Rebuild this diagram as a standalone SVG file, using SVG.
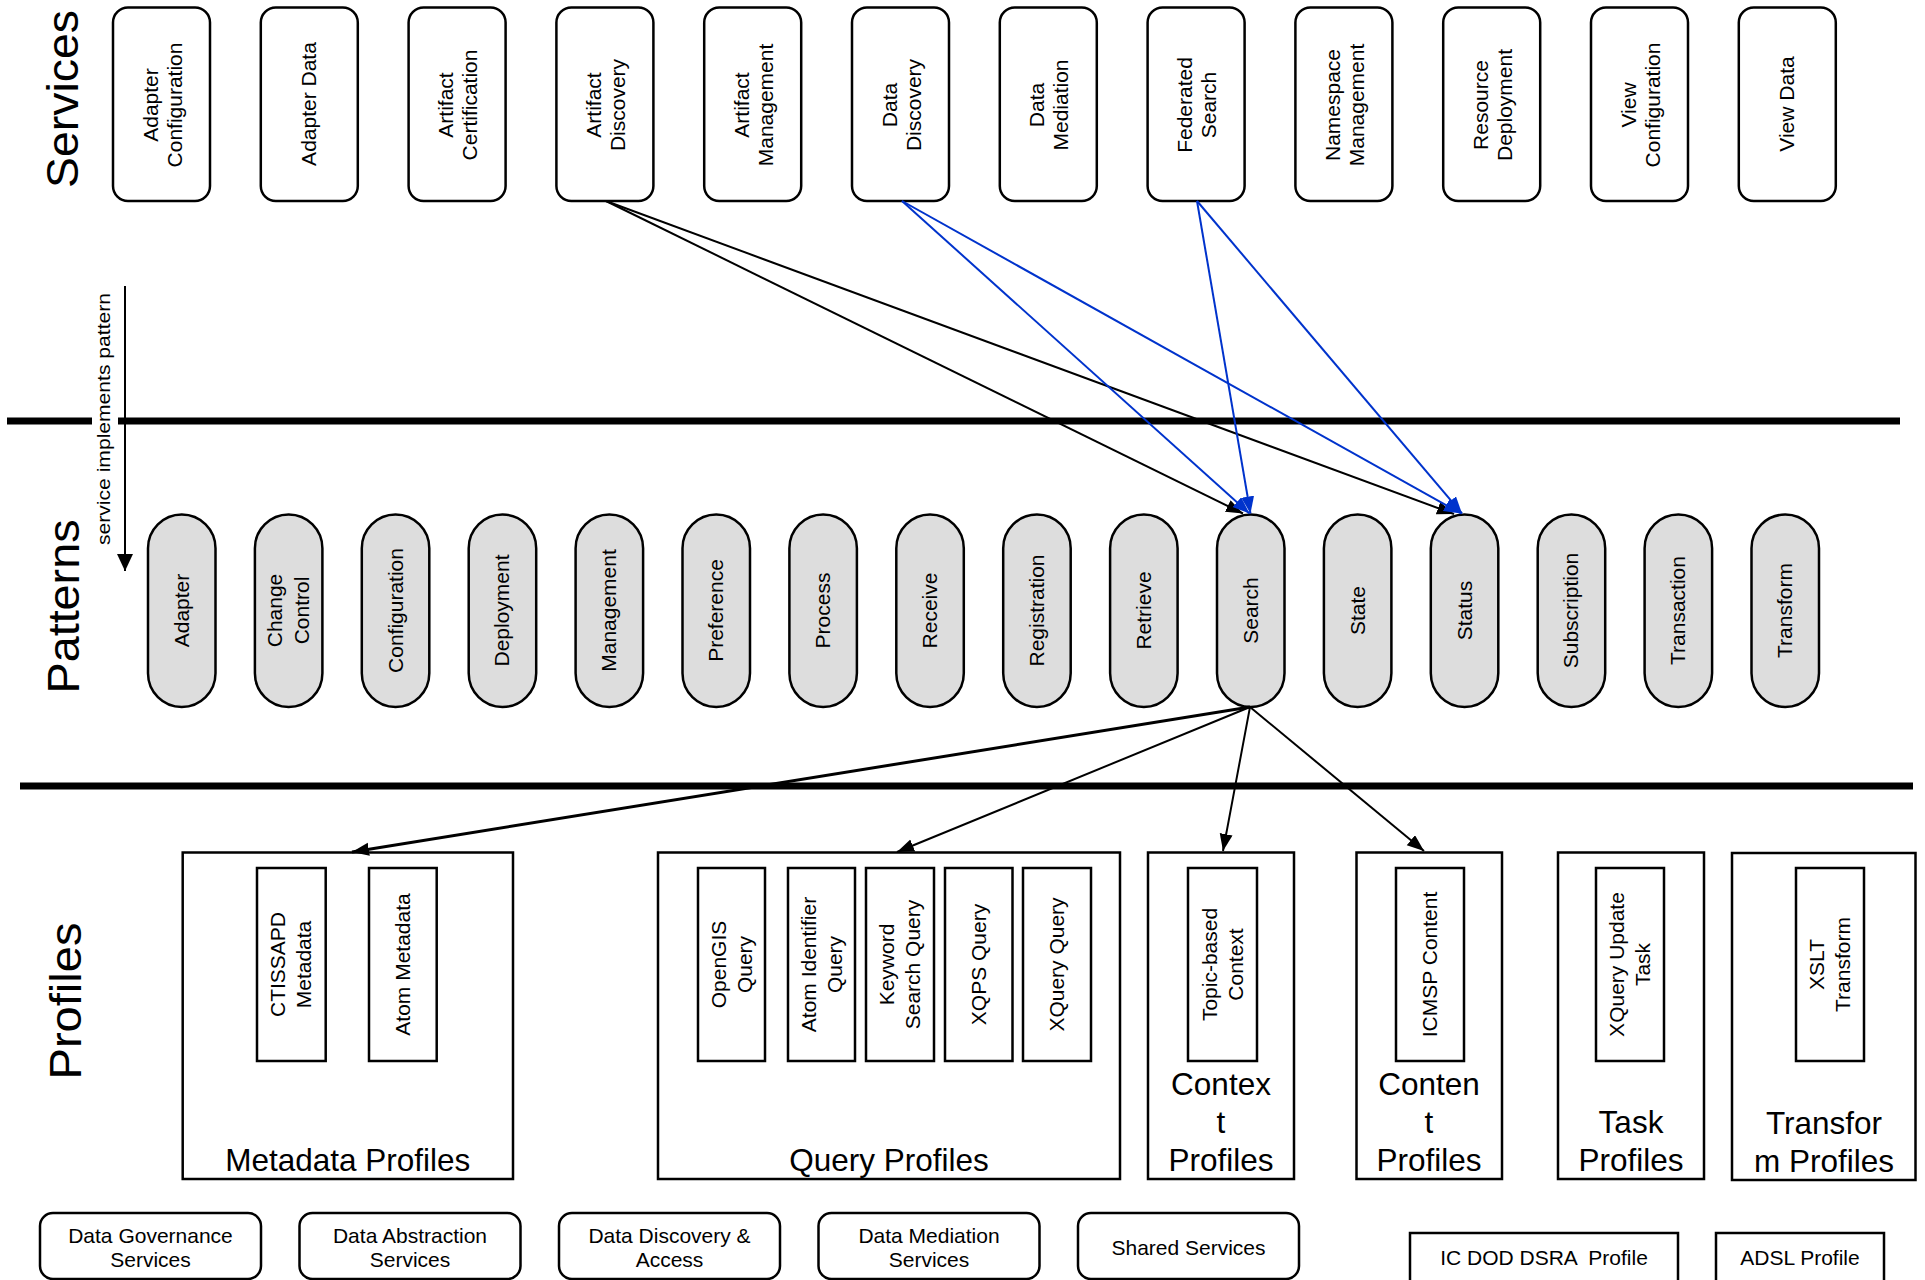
<svg xmlns="http://www.w3.org/2000/svg" width="1925" height="1280" viewBox="0 0 1925 1280">
<style>
text{font-family:"Liberation Sans",Arial,Helvetica,sans-serif;fill:#000}
.t21{font-size:21px;text-anchor:middle}
.big{font-size:31.5px;text-anchor:middle}
.title{font-size:45px;text-anchor:middle}
.svc{fill:#fff;stroke:#000;stroke-width:2.5}
.pill{fill:#dddddd;stroke:#000;stroke-width:2.5}
.box{fill:#fff;stroke:#000;stroke-width:2.5}
.sep{stroke:#000;stroke-width:7}
.blk{stroke:#000;stroke-width:2;fill:none;marker-end:url(#ab)}
.blu{stroke:#0033cc;stroke-width:2;fill:none;marker-end:url(#au)}
</style>
<defs>
<marker id="ab" markerUnits="userSpaceOnUse" markerWidth="18" markerHeight="14" refX="17" refY="6.5" orient="auto"><path d="M0,0 L17,6.5 L0,13 z" fill="#000"/></marker>
<marker id="au" markerUnits="userSpaceOnUse" markerWidth="18" markerHeight="14" refX="17" refY="6.5" orient="auto"><path d="M0,0 L17,6.5 L0,13 z" fill="#0033cc"/></marker>
<marker id="av" markerUnits="userSpaceOnUse" markerWidth="18" markerHeight="17" refX="17" refY="8" orient="auto"><path d="M0,0 L17,8 L0,16 z" fill="#000"/></marker>
</defs>
<rect width="1925" height="1280" fill="#fff"/>

<g id="layer-titles">
<text class="title" transform="translate(78,99) rotate(-90)" textLength="178" lengthAdjust="spacingAndGlyphs">Services</text>
<text class="title" transform="translate(79,606.5) rotate(-90)" textLength="174" lengthAdjust="spacingAndGlyphs">Patterns</text>
<text class="title" transform="translate(81,1001) rotate(-90)" textLength="157" lengthAdjust="spacingAndGlyphs">Profiles</text>
</g>

<g id="separators">
<line class="sep" x1="7" y1="421" x2="92" y2="421"/>
<line class="sep" x1="118" y1="421" x2="1900" y2="421"/>
<line class="sep" x1="20" y1="786" x2="1913" y2="786"/>
</g>

<g id="legend-arrow">
<line x1="125" y1="286" x2="125" y2="571" stroke="#000" stroke-width="2" marker-end="url(#av)"/>
<text transform="translate(110,419) rotate(-90)" font-size="19" text-anchor="middle" textLength="252" lengthAdjust="spacingAndGlyphs">service implements pattern</text>
</g>

<g id="services">
<g id="svc-adapter-configuration"><rect class="svc" x="113" y="7.5" width="97" height="193.5" rx="15"/><text class="t21" transform="translate(161.5,105) rotate(-90)"><tspan x="0" y="-4">Adapter</tspan><tspan x="0" y="20">Configuration</tspan></text></g>
<g id="svc-adapter-data"><rect class="svc" x="260.8" y="7.5" width="97" height="193.5" rx="15"/><text class="t21" transform="translate(309.3,104) rotate(-90)"><tspan x="0" y="7">Adapter Data</tspan></text></g>
<g id="svc-artifact-certification"><rect class="svc" x="408.6" y="7.5" width="97" height="193.5" rx="15"/><text class="t21" transform="translate(457.1,105) rotate(-90)"><tspan x="0" y="-4">Artifact</tspan><tspan x="0" y="20">Certification</tspan></text></g>
<g id="svc-artifact-discovery"><rect class="svc" x="556.4" y="7.5" width="97" height="193.5" rx="15"/><text class="t21" transform="translate(604.9,105) rotate(-90)"><tspan x="0" y="-4">Artifact</tspan><tspan x="0" y="20">Discovery</tspan></text></g>
<g id="svc-artifact-management"><rect class="svc" x="704.2" y="7.5" width="97" height="193.5" rx="15"/><text class="t21" transform="translate(752.7,105) rotate(-90)"><tspan x="0" y="-4">Artifact</tspan><tspan x="0" y="20">Management</tspan></text></g>
<g id="svc-data-discovery"><rect class="svc" x="852" y="7.5" width="97" height="193.5" rx="15"/><text class="t21" transform="translate(900.5,105) rotate(-90)"><tspan x="0" y="-4">Data</tspan><tspan x="0" y="20">Discovery</tspan></text></g>
<g id="svc-data-mediation"><rect class="svc" x="999.8" y="7.5" width="97" height="193.5" rx="15"/><text class="t21" transform="translate(1048.3,105) rotate(-90)"><tspan x="0" y="-4">Data</tspan><tspan x="0" y="20">Mediation</tspan></text></g>
<g id="svc-federated-search"><rect class="svc" x="1147.6" y="7.5" width="97" height="193.5" rx="15"/><text class="t21" transform="translate(1196.1,105) rotate(-90)"><tspan x="0" y="-4">Federated</tspan><tspan x="0" y="20">Search</tspan></text></g>
<g id="svc-namespace-management"><rect class="svc" x="1295.4" y="7.5" width="97" height="193.5" rx="15"/><text class="t21" transform="translate(1343.9,105) rotate(-90)"><tspan x="0" y="-4">Namespace</tspan><tspan x="0" y="20">Management</tspan></text></g>
<g id="svc-resource-deployment"><rect class="svc" x="1443.2" y="7.5" width="97" height="193.5" rx="15"/><text class="t21" transform="translate(1491.7,105) rotate(-90)"><tspan x="0" y="-4">Resource</tspan><tspan x="0" y="20">Deployment</tspan></text></g>
<g id="svc-view-configuration"><rect class="svc" x="1591" y="7.5" width="97" height="193.5" rx="15"/><text class="t21" transform="translate(1639.5,105) rotate(-90)"><tspan x="0" y="-4">View</tspan><tspan x="0" y="20">Configuration</tspan></text></g>
<g id="svc-view-data"><rect class="svc" x="1738.8" y="7.5" width="97" height="193.5" rx="15"/><text class="t21" transform="translate(1787.3,104) rotate(-90)"><tspan x="0" y="7">View Data</tspan></text></g>
</g>

<g id="patterns">
<g id="pat-adapter"><rect class="pill" x="148" y="514.5" width="67.5" height="192.5" rx="33.75"/><text class="t21" transform="translate(181.75,610.5) rotate(-90)"><tspan x="0" y="7">Adapter</tspan></text></g>
<g id="pat-change-control"><rect class="pill" x="254.9" y="514.5" width="67.5" height="192.5" rx="33.75"/><text class="t21" transform="translate(288.65,610.5) rotate(-90)"><tspan x="0" y="-6.5">Change</tspan><tspan x="0" y="20.5">Control</tspan></text></g>
<g id="pat-configuration"><rect class="pill" x="361.8" y="514.5" width="67.5" height="192.5" rx="33.75"/><text class="t21" transform="translate(395.55,610.5) rotate(-90)"><tspan x="0" y="7">Configuration</tspan></text></g>
<g id="pat-deployment"><rect class="pill" x="468.7" y="514.5" width="67.5" height="192.5" rx="33.75"/><text class="t21" transform="translate(502.45,610.5) rotate(-90)"><tspan x="0" y="7">Deployment</tspan></text></g>
<g id="pat-management"><rect class="pill" x="575.6" y="514.5" width="67.5" height="192.5" rx="33.75"/><text class="t21" transform="translate(609.35,610.5) rotate(-90)"><tspan x="0" y="7">Management</tspan></text></g>
<g id="pat-preference"><rect class="pill" x="682.5" y="514.5" width="67.5" height="192.5" rx="33.75"/><text class="t21" transform="translate(716.25,610.5) rotate(-90)"><tspan x="0" y="7">Preference</tspan></text></g>
<g id="pat-process"><rect class="pill" x="789.4" y="514.5" width="67.5" height="192.5" rx="33.75"/><text class="t21" transform="translate(823.15,610.5) rotate(-90)"><tspan x="0" y="7">Process</tspan></text></g>
<g id="pat-receive"><rect class="pill" x="896.3" y="514.5" width="67.5" height="192.5" rx="33.75"/><text class="t21" transform="translate(930.05,610.5) rotate(-90)"><tspan x="0" y="7">Receive</tspan></text></g>
<g id="pat-registration"><rect class="pill" x="1003.2" y="514.5" width="67.5" height="192.5" rx="33.75"/><text class="t21" transform="translate(1036.95,610.5) rotate(-90)"><tspan x="0" y="7">Registration</tspan></text></g>
<g id="pat-retrieve"><rect class="pill" x="1110.1" y="514.5" width="67.5" height="192.5" rx="33.75"/><text class="t21" transform="translate(1143.85,610.5) rotate(-90)"><tspan x="0" y="7">Retrieve</tspan></text></g>
<g id="pat-search"><rect class="pill" x="1217" y="514.5" width="67.5" height="192.5" rx="33.75"/><text class="t21" transform="translate(1250.75,610.5) rotate(-90)"><tspan x="0" y="7">Search</tspan></text></g>
<g id="pat-state"><rect class="pill" x="1323.9" y="514.5" width="67.5" height="192.5" rx="33.75"/><text class="t21" transform="translate(1357.65,610.5) rotate(-90)"><tspan x="0" y="7">State</tspan></text></g>
<g id="pat-status"><rect class="pill" x="1430.8" y="514.5" width="67.5" height="192.5" rx="33.75"/><text class="t21" transform="translate(1464.55,610.5) rotate(-90)"><tspan x="0" y="7">Status</tspan></text></g>
<g id="pat-subscription"><rect class="pill" x="1537.7" y="514.5" width="67.5" height="192.5" rx="33.75"/><text class="t21" transform="translate(1571.45,610.5) rotate(-90)"><tspan x="0" y="7">Subscription</tspan></text></g>
<g id="pat-transaction"><rect class="pill" x="1644.6" y="514.5" width="67.5" height="192.5" rx="33.75"/><text class="t21" transform="translate(1678.35,610.5) rotate(-90)"><tspan x="0" y="7">Transaction</tspan></text></g>
<g id="pat-transform"><rect class="pill" x="1751.5" y="514.5" width="67.5" height="192.5" rx="33.75"/><text class="t21" transform="translate(1785.25,610.5) rotate(-90)"><tspan x="0" y="7">Transform</tspan></text></g>
</g>

<g id="profiles">
<g id="prof-metadata"><rect class="box" x="182.7" y="852.5" width="330.3" height="326.5"/><text class="big" x="347.8" y="1171">Metadata Profiles</text>
<rect class="box" x="257" y="868" width="68.7" height="193"/><text class="t21" transform="translate(291.3,964.5) rotate(-90)"><tspan x="0" y="-6">CTISSAPD</tspan><tspan x="0" y="20">Metadata</tspan></text>
<rect class="box" x="369" y="868" width="67.7" height="193"/><text class="t21" transform="translate(402.8,964.5) rotate(-90)"><tspan x="0" y="7">Atom Metadata</tspan></text></g>
<g id="prof-query"><rect class="box" x="658" y="852.5" width="462" height="326.5"/><text class="big" x="889" y="1171">Query Profiles</text>
<rect class="box" x="698" y="868" width="67" height="193"/><text class="t21" transform="translate(731.5,964.5) rotate(-90)"><tspan x="0" y="-6">OpenGIS</tspan><tspan x="0" y="20">Query</tspan></text>
<rect class="box" x="788" y="868" width="67" height="193"/><text class="t21" transform="translate(821.5,964.5) rotate(-90)"><tspan x="0" y="-6">Atom Identifier</tspan><tspan x="0" y="20">Query</tspan></text>
<rect class="box" x="866" y="868" width="68" height="193"/><text class="t21" transform="translate(900,964.5) rotate(-90)"><tspan x="0" y="-6">Keyword</tspan><tspan x="0" y="20">Search Query</tspan></text>
<rect class="box" x="945" y="868" width="67.5" height="193"/><text class="t21" transform="translate(978.7,964.5) rotate(-90)"><tspan x="0" y="7">XQPS Query</tspan></text>
<rect class="box" x="1023" y="868" width="68" height="193"/><text class="t21" transform="translate(1057,964.5) rotate(-90)"><tspan x="0" y="7">XQuery Query</tspan></text></g>
<g id="prof-context"><rect class="box" x="1148" y="852.5" width="146" height="326.5"/><text class="big" x="1221" y="1095">Contex</text><text class="big" x="1221" y="1133">t</text><text class="big" x="1221" y="1171">Profiles</text>
<rect class="box" x="1188" y="868" width="69" height="193"/><text class="t21" transform="translate(1222.5,964.5) rotate(-90)"><tspan x="0" y="-6">Topic-based</tspan><tspan x="0" y="20">Context</tspan></text></g>
<g id="prof-content"><rect class="box" x="1356.5" y="852.5" width="145.5" height="326.5"/><text class="big" x="1429" y="1095">Conten</text><text class="big" x="1429" y="1133">t</text><text class="big" x="1429" y="1171">Profiles</text>
<rect class="box" x="1396" y="868" width="68" height="193"/><text class="t21" transform="translate(1430,964.5) rotate(-90)"><tspan x="0" y="7">ICMSP Content</tspan></text></g>
<g id="prof-task"><rect class="box" x="1558" y="852.5" width="146" height="326.5"/><text class="big" x="1631" y="1133">Task</text><text class="big" x="1631" y="1171">Profiles</text>
<rect class="box" x="1596" y="868" width="68" height="193"/><text class="t21" transform="translate(1630,964.5) rotate(-90)"><tspan x="0" y="-6">XQuery Update</tspan><tspan x="0" y="20">Task</tspan></text></g>
<g id="prof-transform"><rect class="box" x="1732" y="853" width="183.5" height="327"/><text class="big" x="1824" y="1134">Transfor</text><text class="big" x="1824" y="1172">m Profiles</text>
<rect class="box" x="1796" y="868" width="68" height="193"/><text class="t21" transform="translate(1830,964.5) rotate(-90)"><tspan x="0" y="-6">XSLT</tspan><tspan x="0" y="20">Transform</tspan></text></g>
</g>

<g id="legend-boxes">
<g id="lg-governance"><rect class="box" x="40" y="1213" width="221" height="66" rx="13"/><text class="t21" x="150.5" y="1243">Data Governance</text><text class="t21" x="150.5" y="1267">Services</text></g>
<g id="lg-abstraction"><rect class="box" x="299.5" y="1213" width="221" height="66" rx="13"/><text class="t21" x="410" y="1243">Data Abstraction</text><text class="t21" x="410" y="1267">Services</text></g>
<g id="lg-discovery"><rect class="box" x="559" y="1213" width="221" height="66" rx="13"/><text class="t21" x="669.5" y="1243">Data Discovery &amp;</text><text class="t21" x="669.5" y="1267">Access</text></g>
<g id="lg-mediation"><rect class="box" x="818.5" y="1213" width="221" height="66" rx="13"/><text class="t21" x="929" y="1243">Data Mediation</text><text class="t21" x="929" y="1267">Services</text></g>
<g id="lg-shared"><rect class="box" x="1078" y="1213" width="221" height="66" rx="13"/><text class="t21" x="1188.5" y="1255">Shared Services</text></g>
<g id="lg-icdod"><rect class="box" x="1410" y="1233" width="268" height="60"/><text class="t21" x="1544" y="1265" xml:space="preserve">IC DOD DSRA  Profile</text></g>
<g id="lg-adsl"><rect class="box" x="1716" y="1233" width="168" height="60"/><text class="t21" x="1800" y="1265">ADSL Profile</text></g>
</g>

<g id="connectors">
<line class="blk" x1="606" y1="201" x2="1243" y2="513.5"/>
<line class="blk" x1="606" y1="201" x2="1454" y2="514"/>
<line class="blu" x1="902" y1="201" x2="1249.5" y2="513.5"/>
<line class="blu" x1="902" y1="201" x2="1461" y2="513.5"/>
<line class="blu" x1="1197" y1="201" x2="1250.5" y2="513.5"/>
<line class="blu" x1="1197" y1="201" x2="1462" y2="513.5"/>
<line class="blk" x1="1250" y1="707" x2="352" y2="852" style="stroke-width:3"/>
<line class="blk" x1="1250" y1="707" x2="897" y2="852"/>
<line class="blk" x1="1250" y1="707" x2="1223" y2="851"/>
<line class="blk" x1="1250" y1="707" x2="1424" y2="851"/>
</g>
</svg>
